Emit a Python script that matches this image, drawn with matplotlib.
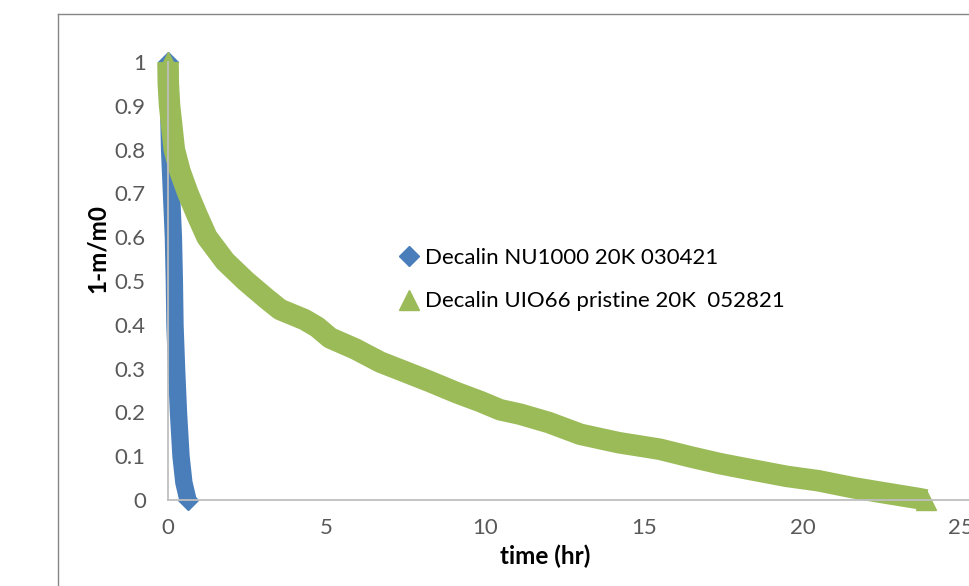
import matplotlib
matplotlib.use("Agg")
import matplotlib.pyplot as plt
from matplotlib.lines import Line2D

# Data
nu1000_t = [0.0, 0.02, 0.05, 0.11, 0.17, 0.20, 0.22, 0.27, 0.33, 0.41, 0.50, 0.63]
nu1000_y = [1.0, 0.9, 0.8, 0.7, 0.6, 0.5, 0.4, 0.3, 0.2, 0.1, 0.04, 0.0]

uio66_t = [0.0, 0.01, 0.05, 0.2, 0.38, 0.63, 0.92, 1.23, 1.8, 2.45, 3.1, 3.53, 4.3, 4.7, 5.11,
           5.9, 6.69, 7.5, 8.27, 9.1, 9.84, 10.47, 11.1, 12.0, 13.0, 14.2, 15.5, 16.5,
           17.4, 18.04, 19.5, 20.5, 21.6, 22.6, 23.7, 23.9]
uio66_y = [1.0, 0.95, 0.9, 0.8, 0.75, 0.7, 0.65, 0.6, 0.545, 0.5, 0.46, 0.435, 0.412, 0.395,
           0.37, 0.345, 0.315, 0.292, 0.27, 0.245, 0.225, 0.206, 0.196, 0.177, 0.15, 0.131,
           0.116, 0.098, 0.083, 0.074, 0.054, 0.044, 0.028, 0.016, 0.003, 0.0]

series_labels = ["Decalin NU1000 20K 030421", "Decalin UIO66 pristine 20K  052821"]
blue = "#4A7EBB"
green = "#9BBB59"

x_ticks = [0, 5, 10, 15, 20, 25]
y_ticks = [0, 0.1, 0.2, 0.3, 0.4, 0.5, 0.6, 0.7, 0.8, 0.9, 1]
y_tick_labels = ["0", "0.1", "0.2", "0.3", "0.4", "0.5", "0.6", "0.7", "0.8", "0.9", "1"]

plt.rcParams['font.family'] = ['Lato', 'DejaVu Sans']

W, H = 969, 586
fig = plt.figure(figsize=(W / 100, H / 100), dpi=100)
ax = fig.add_axes([168 / W, 1 - 500 / H, (969 - 168) / W, (500 - 62) / H])

ax.plot(uio66_t, uio66_y, color=green, lw=15.5, solid_capstyle='butt',
        solid_joinstyle='round', clip_on=False, zorder=2)
ax.plot(uio66_t[0:1] + uio66_t[-1:], uio66_y[0:1] + uio66_y[-1:], ls='none',
        marker='^', ms=14, color=green, mec=green, clip_on=False, zorder=2)
ax.plot(nu1000_t, nu1000_y, color=blue, lw=12.5, solid_capstyle='butt',
        solid_joinstyle='round', clip_on=False, zorder=1)
ax.plot(nu1000_t[0:1] + nu1000_t[-1:], nu1000_y[0:1] + nu1000_y[-1:], ls='none',
        marker='D', ms=10, color=blue, mec=blue, clip_on=False, zorder=1)

ax.set_xlim(0, (969 - 168) / 31.72)
ax.set_ylim(0, 1)
ax.set_xticks(x_ticks)
ax.set_xticklabels([str(v) for v in x_ticks])
ax.set_yticks(y_ticks)
ax.set_yticklabels(y_tick_labels)
ax.tick_params(axis='both', length=0, labelsize=16, labelcolor='#595959')
ax.tick_params(axis='x', pad=13)
ax.tick_params(axis='y', pad=16)
for s in ['top', 'right']:
    ax.spines[s].set_visible(False)
for s in ['left', 'bottom']:
    ax.spines[s].set_color('#BFBFBF')
    ax.spines[s].set_linewidth(1.3)
ax.patch.set_alpha(0)

fig.text(97 / W, 1 - 249 / H, "1-m/m0", rotation=90, ha='center', va='center',
         fontsize=17.5, fontweight='bold', color='black')
fig.text(545 / W, 1 - 556 / H, "time (hr)", ha='center', va='center',
         fontsize=17.5, fontweight='bold', color='black')

handles = [Line2D([], [], ls='none', marker='D', ms=10, color=blue),
           Line2D([], [], ls='none', marker='^', ms=14, color=green)]
leg = fig.legend(handles, series_labels, loc='upper left',
                 bbox_to_anchor=(398 / W, 1 - 248 / H), frameon=False,
                 fontsize=16, handletextpad=0.2, handlelength=1.0,
                 labelspacing=1.05, borderaxespad=0, borderpad=0)

# outer chart border
fig.add_artist(Line2D([58 / W, 58 / W], [0, 1 - 14 / H], transform=fig.transFigure,
                      color='#868686', lw=1))
fig.add_artist(Line2D([58 / W, 1], [1 - 14 / H, 1 - 14 / H], transform=fig.transFigure,
                      color='#868686', lw=1))

fig.savefig("out.png", dpi=100)
